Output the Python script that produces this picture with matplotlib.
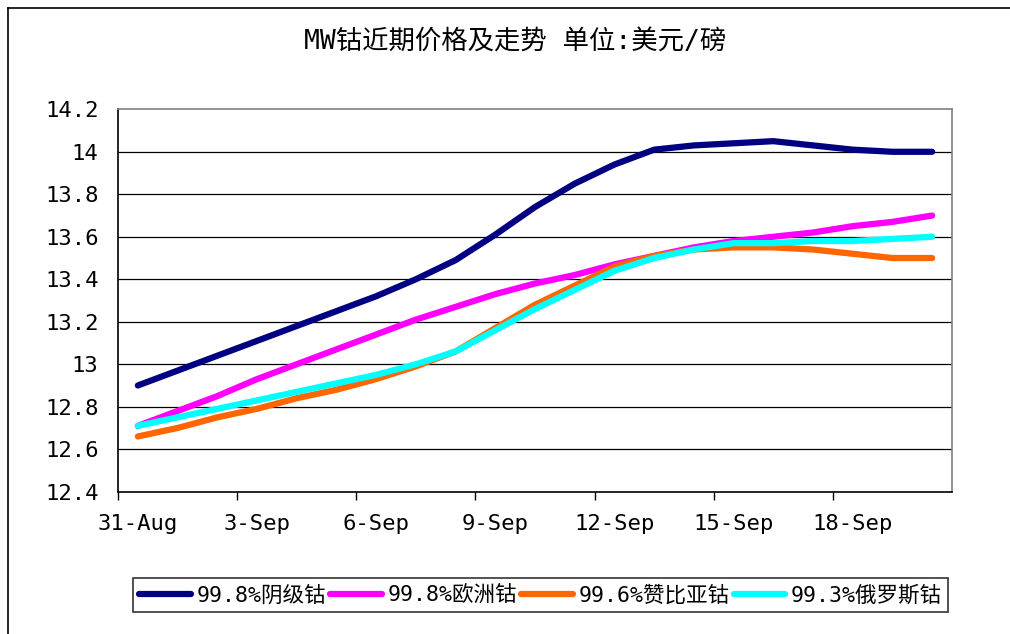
import matplotlib
matplotlib.use("Agg")
import matplotlib.pyplot as plt
from matplotlib.lines import Line2D
import numpy as np

# ---- data ----
dates = ["31-Aug", "1-Sep", "2-Sep", "3-Sep", "4-Sep", "5-Sep", "6-Sep", "7-Sep",
         "8-Sep", "9-Sep", "10-Sep", "11-Sep", "12-Sep", "13-Sep", "14-Sep",
         "15-Sep", "16-Sep", "17-Sep", "18-Sep", "19-Sep", "20-Sep"]
cathode_998 = [12.90, 12.97, 13.04, 13.11, 13.18, 13.25, 13.32, 13.40, 13.49, 13.61,
               13.74, 13.85, 13.94, 14.01, 14.03, 14.04, 14.05, 14.03, 14.01, 14.00, 14.00]
europe_998 = [12.71, 12.78, 12.85, 12.93, 13.00, 13.07, 13.14, 13.21, 13.27, 13.33,
              13.38, 13.42, 13.47, 13.51, 13.55, 13.58, 13.60, 13.62, 13.65, 13.67, 13.70]
zambia_996 = [12.66, 12.70, 12.75, 12.79, 12.84, 12.88, 12.93, 12.99, 13.06, 13.17,
              13.28, 13.37, 13.46, 13.51, 13.54, 13.55, 13.55, 13.54, 13.52, 13.50, 13.50]
russia_993 = [12.71, 12.75, 12.79, 12.83, 12.87, 12.91, 12.95, 13.00, 13.06, 13.16,
              13.26, 13.35, 13.44, 13.50, 13.54, 13.57, 13.57, 13.58, 13.58, 13.59, 13.60]
series_names = ["99.8%阴级钴", "99.8%欧洲钴", "99.6%赞比亚钴", "99.3%俄罗斯钴"]
colors = ["#000080", "#FF00FF", "#FF6600", "#00FFFF"]
y_ticks = [12.4, 12.6, 12.8, 13.0, 13.2, 13.4, 13.6, 13.8, 14.0, 14.2]
y_labels = ["12.4", "12.6", "12.8", "13", "13.2", "13.4", "13.6", "13.8", "14", "14.2"]
title = "MW钴近期价格及走势 单位:美元/磅"

FONT = ["DejaVu Sans Mono", "Noto Sans CJK SC"]
plt.rcParams["font.family"] = FONT

W, H = 1010, 634
fig = plt.figure(figsize=(W / 100, H / 100), dpi=100)
ax = fig.add_axes([118 / W, 1 - 491.7 / H, 834 / W, 382.4 / H])

x = np.arange(len(dates))
for vals, name, c in zip([cathode_998, europe_998, zambia_996, russia_993], series_names, colors):
    ax.plot(x, vals, color=c, lw=4.5, solid_capstyle="round", solid_joinstyle="round",
            label=name, zorder=3)

ax.set_xlim(-0.5, len(dates) - 0.5)
ax.set_ylim(12.4, 14.2)
ax.set_yticks(y_ticks)
ax.set_yticklabels(y_labels, fontsize=16)
ax.tick_params(axis="y", length=0, pad=14)
for yv in y_ticks[1:-1]:
    ax.axhline(yv, color="black", lw=0.9, zorder=1)

# major ticks at category boundaries every 3, labels at categories
ax.set_xticks(np.arange(-0.5, len(dates) - 1, 3))
ax.set_xticklabels([])
ax.tick_params(axis="x", which="major", direction="out", length=6, width=1)
lab_idx = list(range(0, len(dates), 3))
ax.set_xticks(lab_idx, minor=True)
ax.set_xticklabels([dates[i] for i in lab_idx], minor=True, fontsize=16)
ax.tick_params(axis="x", which="minor", length=0, pad=16)

for s in ["left", "bottom"]:
    ax.spines[s].set_color("black")
    ax.spines[s].set_linewidth(1.2)
for s in ["top", "right"]:
    ax.spines[s].set_color("#808080")
    ax.spines[s].set_linewidth(1.2)

fig.text(515 / W, 1 - 43 / H, title, ha="center", va="center", fontsize=19)

leg = fig.legend(loc="center", bbox_to_anchor=(540.5 / W, 1 - 595 / H), ncol=4,
                 fontsize=15.5, frameon=True, fancybox=False, edgecolor="black",
                 handlelength=2.4, handletextpad=0.25, columnspacing=0.2,
                 borderpad=0.3, borderaxespad=0)
leg.get_frame().set_linewidth(1.2)

# outer chart frame (left and top edges visible)
fig.add_artist(Line2D([8 / W, 8 / W], [0, 1 - 8 / H], color="black", lw=1.2, transform=fig.transFigure))
fig.add_artist(Line2D([8 / W, 1], [1 - 8 / H, 1 - 8 / H], color="black", lw=1.2, transform=fig.transFigure))

fig.savefig("out.png", dpi=100)
